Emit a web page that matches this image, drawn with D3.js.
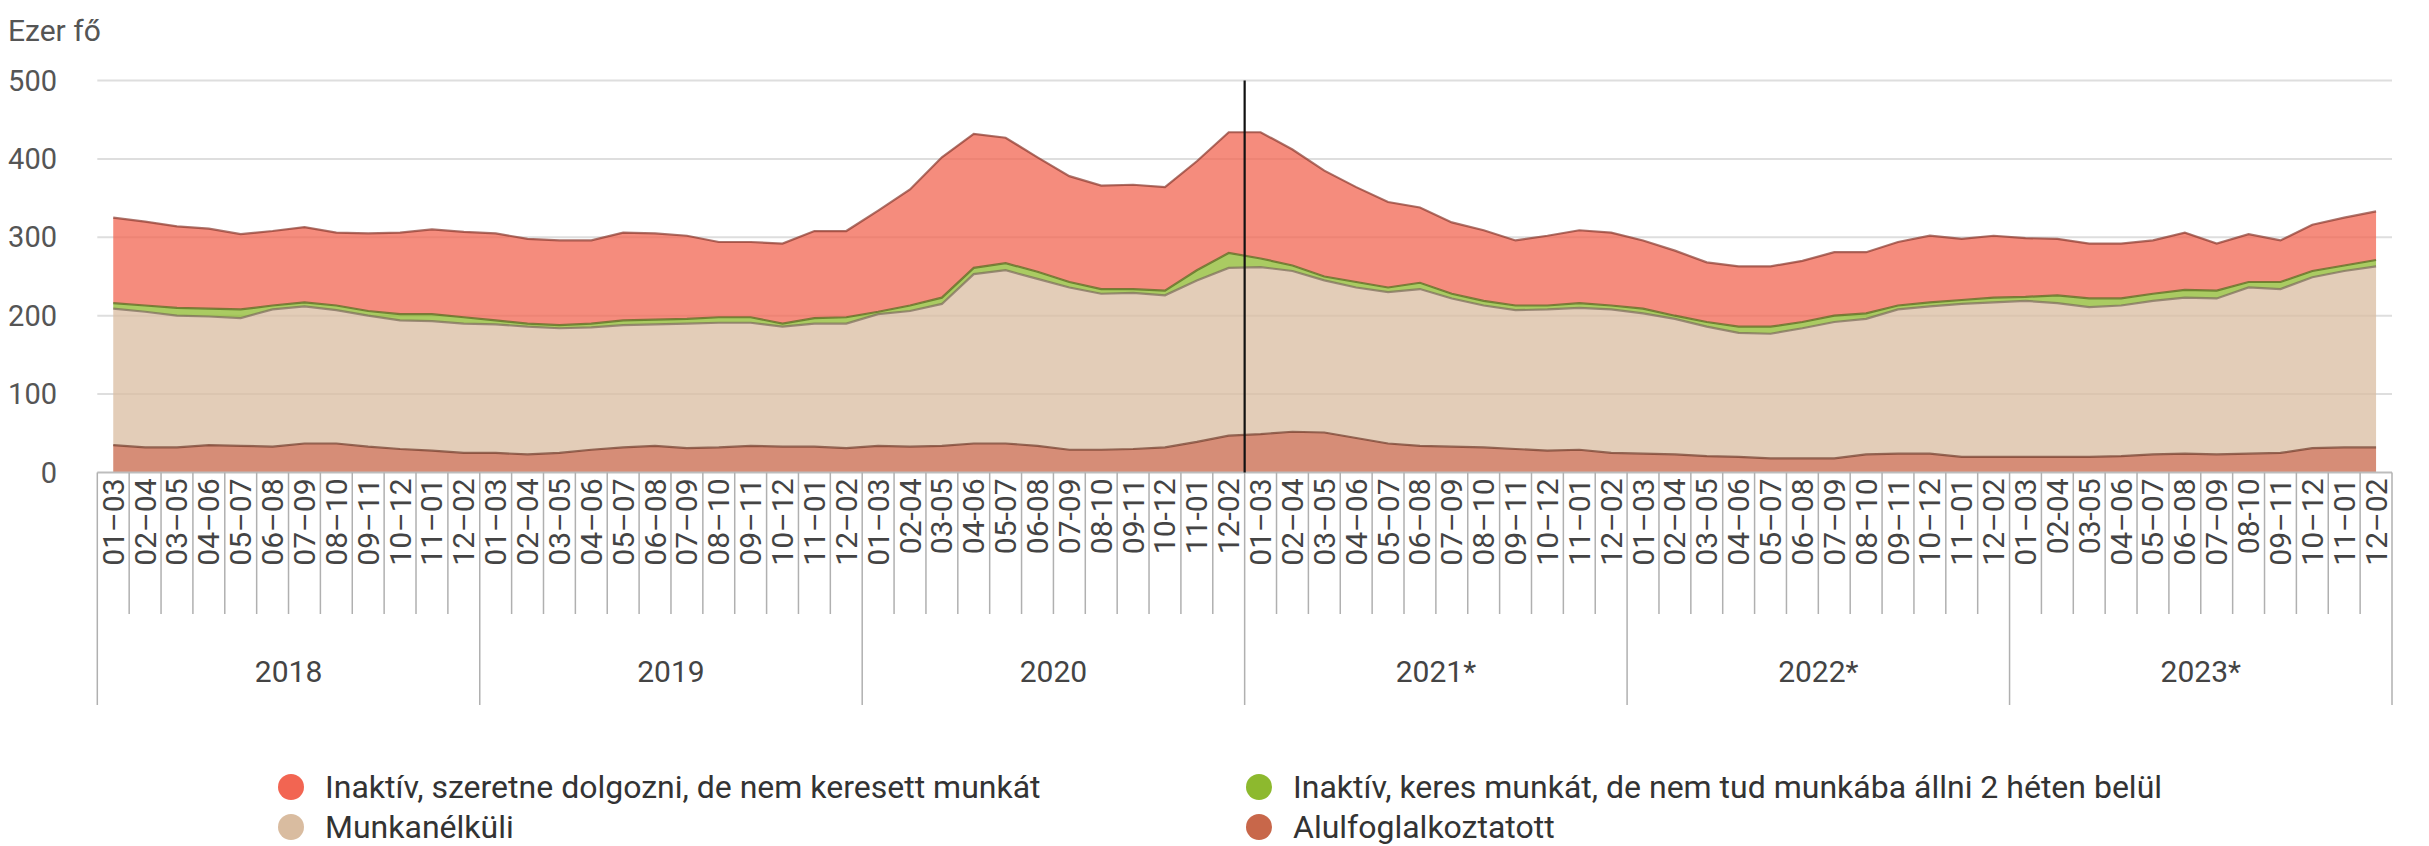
<!DOCTYPE html>
<html>
<head>
<meta charset="utf-8">
<script src="https://cdn.jsdelivr.net/npm/d3@7"></script>
<style>
  html, body { margin: 0; padding: 0; background: #fff; }
  svg { display: block; font-family: Roboto, "Noto Sans", sans-serif; }
</style>
</head>
<body>
<svg id="chart" width="2429" height="846"></svg>
<script>
// Period labels (three-month moving windows), grouped by year
const periods = [
  "01–03","02–04","03–05","04–06","05–07","06–08","07–09","08–10","09–11","10–12","11–01","12–02",
  "01–03","02–04","03–05","04–06","05–07","06–08","07–09","08–10","09–11","10–12","11–01","12–02",
  "01–03","02-04","03-05","04-06","05-07","06-08","07-09","08-10","09-11","10-12","11-01","12-02",
  "01–03","02–04","03–05","04–06","05–07","06–08","07–09","08–10","09–11","10–12","11–01","12–02",
  "01–03","02–04","03–05","04–06","05–07","06–08","07–09","08–10","09–11","10–12","11–01","12–02",
  "01–03","02-04","03-05","04–06","05–07","06–08","07–09","08-10","09–11","10–12","11–01","12–02"
];
const years = ["2018", "2019", "2020", "2021*", "2022*", "2023*"];

// Thousand persons
const alulfoglalkoztatott = [
  35,32,32,35,34,33,37,37,33,30,28,25,
  25,23,25,29,32,34,31,32,34,33,33,31,
  34,33,34,37,37,34,29,29,30,32,39,47,
  49,52,51,44,37,34,33,32,30,28,29,25,
  24,23,21,20,18,18,18,23,24,24,20,20,
  20,20,20,21,23,24,23,24,25,31,32,32
];
const munkanelkuli = [
  174,173,168,164,163,175,175,170,167,164,165,165,
  164,163,159,156,156,155,159,159,157,153,157,159,
  168,173,181,216,221,213,207,199,199,194,206,214,
  213,205,194,192,193,200,189,181,177,180,181,183,
  179,173,165,158,159,166,174,173,184,188,195,197,
  199,196,191,192,196,199,199,212,209,218,225,231
];
const inaktivKeres = [
  7,8,10,10,11,5,5,6,6,8,9,8,
  5,4,4,5,6,6,6,7,7,4,7,8,
  3,7,8,8,9,9,7,6,5,6,13,19,
  11,7,5,7,6,8,6,6,6,5,6,5,
  6,4,6,8,9,8,8,7,5,5,5,6,
  5,10,11,9,9,10,10,7,9,8,7,8
];
const inaktivSzeretne = [
  109,107,104,102,96,95,96,93,99,104,108,109,
  111,108,108,106,112,110,106,96,96,102,111,110,
  129,148,179,171,160,146,135,132,133,132,139,154,
  161,148,135,121,109,96,91,90,83,89,93,93,
  87,83,76,77,77,78,81,78,81,85,78,79,
  75,72,70,70,68,73,60,61,53,59,61,62
];

const seriesNames = [
  "Alulfoglalkoztatott",
  "Munkanélküli",
  "Inaktív, keres munkát, de nem tud munkába állni 2 héten belül",
  "Inaktív, szeretne dolgozni, de nem keresett munkát"
];
const seriesColors = ["#c8674a", "#d9bca0", "#8db92e", "#f26552"];
const yTicks = [0, 100, 200, 300, 400, 500];

const rows = periods.map((p, i) => ({
  idx: i,
  [seriesNames[0]]: alulfoglalkoztatott[i],
  [seriesNames[1]]: munkanelkuli[i],
  [seriesNames[2]]: inaktivKeres[i],
  [seriesNames[3]]: inaktivSzeretne[i]
}));

const svg = d3.select("#chart");
const plotLeft = 97.3, plotRight = 2392, plotTop = 80.5, plotBottom = 472.5;

const x = d3.scaleBand().domain(d3.range(periods.length)).range([plotLeft, plotRight]).padding(0);
const y = d3.scaleLinear().domain([0, 500]).range([plotBottom, plotTop]);
const cx = i => x(i) + x.bandwidth() / 2;

// Gridlines
svg.append("g").selectAll("line").data(yTicks.filter(d => d > 0)).join("line")
  .attr("x1", plotLeft).attr("x2", plotRight)
  .attr("y1", d => y(d)).attr("y2", d => y(d))
  .attr("stroke", "#dedede").attr("stroke-width", 2);

// Stacked areas
const stack = d3.stack().keys(seriesNames);
const layers = stack(rows);
const area = d3.area()
  .x((d, i) => cx(i))
  .y0(d => y(d[0]))
  .y1(d => y(d[1]))
  .curve(d3.curveLinear);
const topLine = d3.line().x((d, i) => cx(i)).y(d => y(d[1]));

const gAreas = svg.append("g");
gAreas.selectAll("path.area").data(layers).join("path")
  .attr("class", "area")
  .attr("d", area)
  .attr("fill", (d, i) => seriesColors[i])
  .attr("fill-opacity", 0.75);
gAreas.selectAll("path.edge").data(layers).join("path")
  .attr("class", "edge")
  .attr("d", topLine)
  .attr("fill", "none")
  .attr("stroke", (d, i) => d3.color(seriesColors[i]).darker(1.6))
  .attr("stroke-opacity", 0.7)
  .attr("stroke-width", 2.2);

// Y axis labels
svg.append("g").selectAll("text").data(yTicks).join("text")
  .attr("x", 57).attr("y", d => y(d))
  .attr("dy", "0.35em")
  .attr("text-anchor", "end")
  .attr("font-size", 29).attr("fill", "#555")
  .text(d => d);

svg.append("text")
  .attr("x", 8).attr("y", 41)
  .attr("font-size", 30).attr("fill", "#555")
  .text("Ezer fő");

// Baseline
svg.append("line")
  .attr("x1", plotLeft).attr("x2", plotRight)
  .attr("y1", plotBottom).attr("y2", plotBottom)
  .attr("stroke", "#bdbdbd").attr("stroke-width", 2);

// Category separators and group separators
const bounds = d3.range(periods.length + 1);
svg.append("g").selectAll("line").data(bounds).join("line")
  .attr("x1", k => plotLeft + k * x.step()).attr("x2", k => plotLeft + k * x.step())
  .attr("y1", plotBottom)
  .attr("y2", k => (k % 12 === 0) ? 705 : 614)
  .attr("stroke", "#b0b0b0").attr("stroke-width", 1.5);

// Period labels
svg.append("g").selectAll("text").data(periods).join("text")
  .attr("transform", (d, i) => `translate(${cx(i) + 10.5},${plotBottom + 6}) rotate(-90)`)
  .attr("text-anchor", "end")
  .attr("font-size", 30).attr("fill", "#444")
  .text(d => d);

// Year labels
svg.append("g").selectAll("text").data(years).join("text")
  .attr("x", (d, j) => plotLeft + (j * 12 + 6) * x.step())
  .attr("y", 682)
  .attr("text-anchor", "middle")
  .attr("font-size", 30).attr("fill", "#444")
  .text(d => d);

// Marker between 2020 and 2021
svg.append("line")
  .attr("x1", plotLeft + 36 * x.step()).attr("x2", plotLeft + 36 * x.step())
  .attr("y1", plotTop).attr("y2", plotBottom)
  .attr("stroke", "#111").attr("stroke-width", 2.2);

// Legend
const legendItems = [
  { name: seriesNames[3], color: seriesColors[3], x: 291, y: 787 },
  { name: seriesNames[1], color: seriesColors[1], x: 291, y: 827 },
  { name: seriesNames[2], color: seriesColors[2], x: 1259, y: 787 },
  { name: seriesNames[0], color: seriesColors[0], x: 1259, y: 827 }
];
const lg = svg.append("g").selectAll("g").data(legendItems).join("g")
  .attr("transform", d => `translate(${d.x},${d.y})`);
lg.append("circle").attr("r", 13).attr("fill", d => d.color);
lg.append("text")
  .attr("x", 34).attr("dy", "0.35em")
  .attr("font-size", 32).attr("fill", "#333")
  .text(d => d.name);
</script>
</body>
</html>
